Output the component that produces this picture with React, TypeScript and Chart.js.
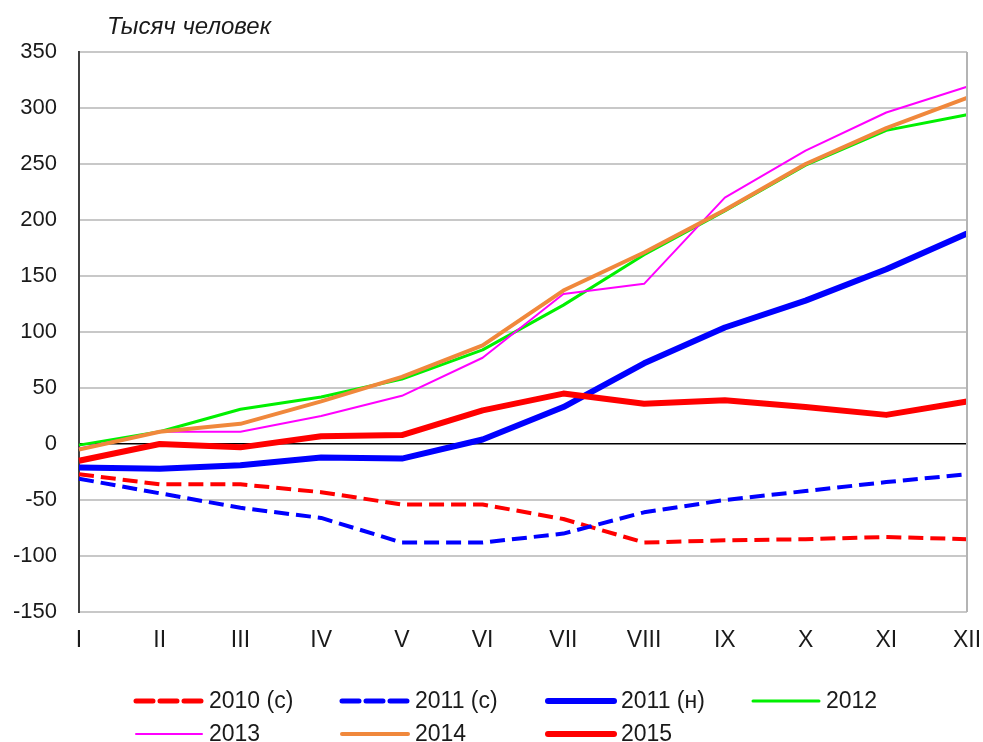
import React, { useEffect, useRef } from "react";
import { Chart, registerables } from "chart.js";

Chart.register(...registerables);

const months = ["I", "II", "III", "IV", "V", "VI", "VII", "VIII", "IX", "X", "XI", "XII"];
const yTicks = { min: -150, max: 350, step: 50 };
const unitTitle = "Тысяч человек";

const s2010c = [-27, -36, -36, -43, -54, -54, -67, -88, -86, -85, -83, -85];
const s2011c = [-31, -44, -57, -66, -88, -88, -80, -61, -50, -42, -34, -27];
const s2011n = [-21, -22, -19, -12, -13, 4, 33, 72, 104, 128, 156, 188];
const s2012 = [-1, 11, 31, 42, 58, 84, 124, 169, 208, 249, 280, 294];
const s2013 = [-4, 11, 11, 25, 43, 77, 134, 143, 220, 262, 296, 319];
const s2014 = [-5, 11, 18, 38, 60, 88, 137, 171, 209, 250, 282, 309];
const s2015 = [-15, 0, -3, 7, 8, 30, 45, 36, 39, 33, 26, 38];

const FONT = "'Liberation Sans', Arial, sans-serif";
const TEXT = "#1a1a1a";

const seriesDefs = [
  { label: "2010 (с)", data: s2010c, color: "#FF0000", width: 4, dash: [15, 7] },
  { label: "2011 (с)", data: s2011c, color: "#0000FF", width: 4, dash: [15, 7] },
  { label: "2011 (н)", data: s2011n, color: "#0000FF", width: 6, dash: [] },
  { label: "2012", data: s2012, color: "#00F000", width: 3, dash: [] },
  { label: "2013", data: s2013, color: "#FF00FF", width: 2, dash: [] },
  { label: "2014", data: s2014, color: "#F0883C", width: 4, dash: [] },
  { label: "2015", data: s2015, color: "#FF0000", width: 6, dash: [] },
];

const decorPlugin = {
  id: "decor",
  afterDraw(chart: any) {
    const ctx = chart.ctx;
    const area = chart.chartArea;
    ctx.save();
    // title
    ctx.fillStyle = TEXT;
    ctx.font = "italic 24px " + FONT;
    ctx.textBaseline = "alphabetic";
    ctx.textAlign = "left";
    ctx.fillText(unitTitle, 107, 34);
    // right border
    ctx.strokeStyle = "#b4b4b4";
    ctx.lineWidth = 2;
    ctx.beginPath();
    ctx.moveTo(area.right, area.top);
    ctx.lineTo(area.right, area.bottom);
    ctx.stroke();
    // legend
    const colX = [134, 340, 546, 751];
    const rowY = [701, 734];
    chart.data.datasets.forEach((ds: any, i: number) => {
      const r = Math.floor(i / 4);
      const c = i % 4;
      const x = colX[c];
      const y = rowY[r];
      const dashed = ds.borderDash && ds.borderDash.length;
      ctx.beginPath();
      ctx.strokeStyle = ds.borderColor;
      ctx.lineWidth = ds.borderWidth + (dashed ? 1 : 0);
      ctx.setLineDash(dashed ? [17, 7] : []);
      ctx.lineCap = "round";
      ctx.moveTo(x + 2, y);
      ctx.lineTo(x + 68, y);
      ctx.stroke();
      ctx.setLineDash([]);
      ctx.fillStyle = TEXT;
      ctx.font = "23px " + FONT;
      ctx.textBaseline = "middle";
      ctx.fillText(ds.label, x + 75, y + 1);
    });
    ctx.restore();
  },
};

export default function App() {
  const ref = useRef<HTMLCanvasElement | null>(null);
  useEffect(() => {
    if (!ref.current) return;
    const n = seriesDefs.length;
    const chart = new Chart(ref.current, {
      type: "line",
      data: {
        labels: months,
        datasets: seriesDefs.map((s, i) => ({
          label: s.label,
          data: s.data,
          borderColor: s.color,
          backgroundColor: s.color,
          borderWidth: s.width,
          borderDash: s.dash,
          borderCapStyle: "butt",
          borderJoinStyle: "round",
          pointRadius: 0,
          tension: 0,
          fill: false,
          order: n - 1 - i,
        })),
      },
      options: {
        animation: false,
        responsive: true,
        maintainAspectRatio: false,
        layout: { padding: { left: 0, right: 16, top: 52, bottom: 0 } },
        plugins: { legend: { display: false }, tooltip: { enabled: false }, title: { display: false } },
        scales: {
          x: {
            type: "category",
            offset: false,
            afterFit: (s: any) => { s.height = 130; s.paddingLeft = 0; s.paddingRight = 0; },
            grid: { display: false, drawTicks: false },
            border: { display: false },
            ticks: { color: TEXT, font: { family: FONT, size: 23 }, padding: 15, maxRotation: 0, autoSkip: false },
          },
          y: {
            min: yTicks.min,
            max: yTicks.max,
            afterFit: (s: any) => { s.width = 79; s.paddingTop = 0; s.paddingBottom = 0; },
            ticks: { stepSize: yTicks.step, color: TEXT, font: { family: FONT, size: 22 }, padding: 22 },
            grid: {
              drawTicks: false,
              color: (c: any) => (c.tick && c.tick.value === 0 ? "#000000" : "#c8c8c8"),
              lineWidth: (c: any) => (c.tick && c.tick.value === 0 ? 1.5 : 2),
            },
            border: { display: true, color: "#404040", width: 2 },
          },
        },
      },
      plugins: [decorPlugin],
    });
    return () => chart.destroy();
  }, []);
  return (
    <div style={{ position: "fixed", left: 0, top: 0, width: 983, height: 742, background: "#fff" }}>
      <canvas ref={ref} />
    </div>
  );
}
